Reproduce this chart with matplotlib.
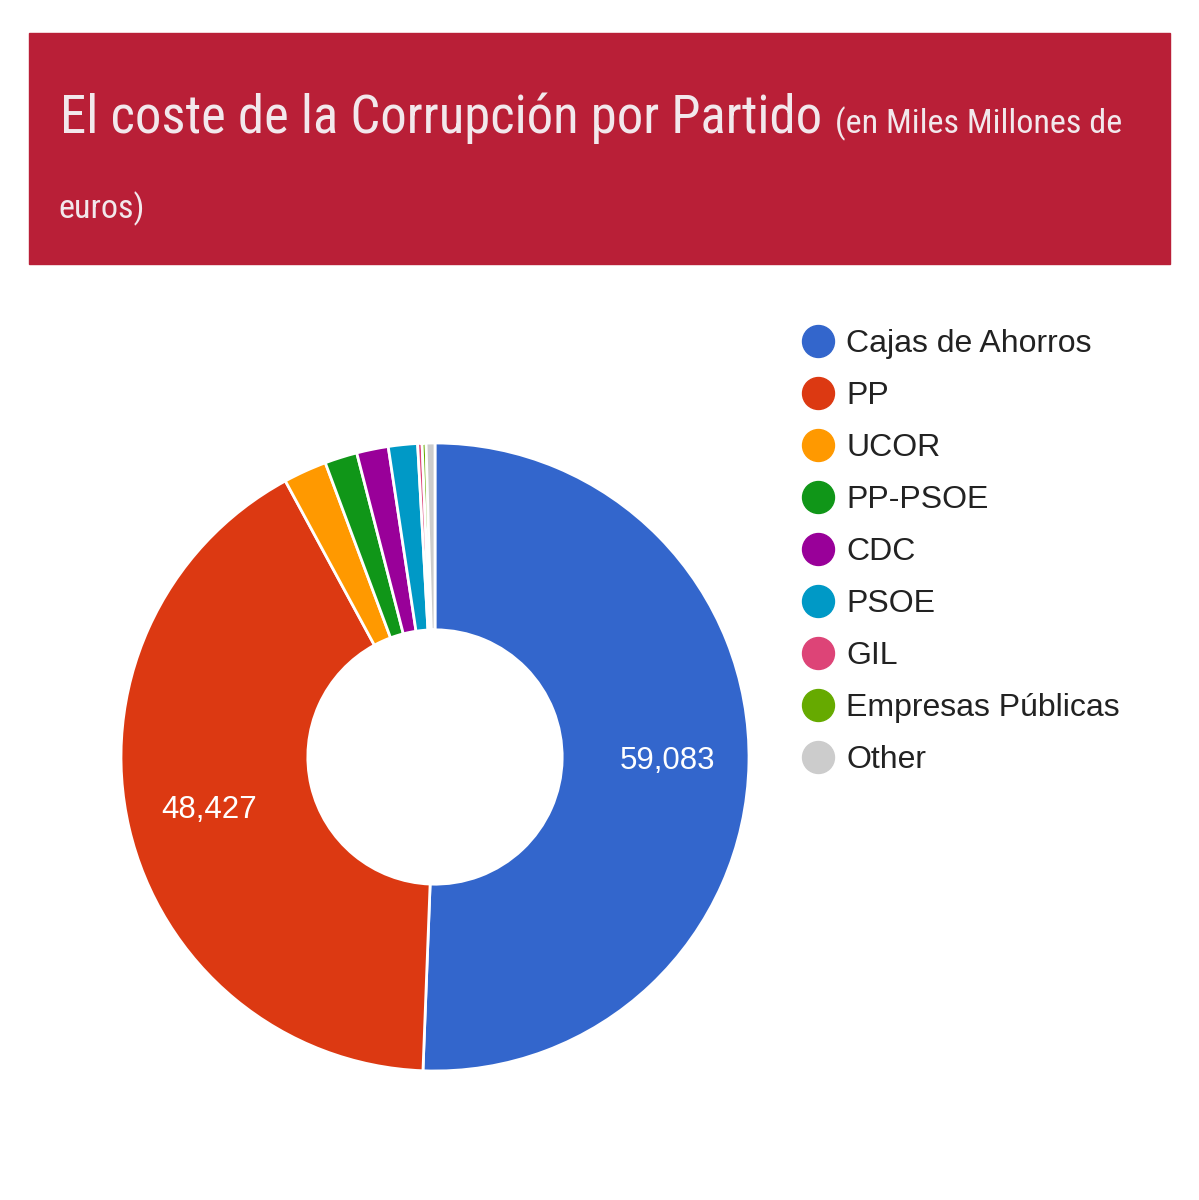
import matplotlib.pyplot as plt
from matplotlib import font_manager
from matplotlib.patches import Rectangle
from matplotlib.lines import Line2D

# Datos del gráfico (miles de millones de euros)
categorias = ['Cajas de Ahorros', 'PP', 'UCOR', 'PP-PSOE', 'CDC', 'PSOE', 'GIL',
              'Empresas Públicas', 'Other']
valores = [59083, 48427, 2600, 1950, 1900, 1750, 265, 235, 530]
colores = ['#3366cc', '#dc3912', '#ff9900', '#109618', '#990099', '#0099c6',
           '#dd4477', '#66aa00', '#cccccc']


def primera_fuente(nombres):
    for n in nombres:
        try:
            font_manager.findfont(n, fallback_to_default=False)
            return n
        except Exception:
            pass
    return 'DejaVu Sans'


narrow = primera_fuente(['Liberation Sans Narrow', 'Roboto Condensed', 'DejaVu Sans Condensed',
                         'Open Sans Condensed', 'Roboto'])
condensada = narrow in ('Liberation Sans Narrow', 'Roboto Condensed', 'DejaVu Sans Condensed',
                        'Open Sans Condensed')

W, H = 1199, 1200
fig = plt.figure(figsize=(W / 100, H / 100), dpi=100)

# Cabecera roja
fig.patches.append(Rectangle((29 / W, 1 - 264 / H), (1170 - 29) / W, (264 - 33) / H,
                             transform=fig.transFigure, color='#b91f37', zorder=0))

fuente_titulo = [narrow, 'DejaVu Sans']
t_grande = 38 if condensada else 31
t_peq = 24.6 if condensada else 20
t1 = fig.text(60 / W, 1 - 133 / H, 'El coste de la Corrupción por Partido',
              fontsize=t_grande, color='#f2e8ec', family=fuente_titulo, va='baseline')
fig.canvas.draw()
r = fig.canvas.get_renderer()
bb = t1.get_window_extent(r)
fig.text((bb.x1 + 13) / W, 1 - 133 / H, '(en Miles Millones de',
         fontsize=t_peq, color='#f2e8ec', family=fuente_titulo, va='baseline')
fig.text(58 / W, 1 - 218 / H, 'euros)',
         fontsize=t_peq, color='#f2e8ec', family=fuente_titulo, va='baseline')

# Donut
cx, cy, rad = 435, 757, 314
ax = fig.add_axes([(cx - rad) / W, (H - cy - rad) / H, 2 * rad / W, 2 * rad / H])
total = sum(valores)


def etiqueta(p):
    return f'{p * total / 100:,.0f}' if p > 10 else ''


wedges, _, autotexts = ax.pie(valores, colors=colores, startangle=90, counterclock=False,
                              autopct=etiqueta, pctdistance=0.74,
                              wedgeprops=dict(width=1 - 0.405, edgecolor='white', linewidth=2),
                              textprops=dict(color='white', fontsize=22.5,
                                             family=['Liberation Sans', 'DejaVu Sans']))
ax.set_xlim(-1, 1)
ax.set_ylim(-1, 1)
ax.set_aspect('equal')

# Leyenda
handles = [Line2D([], [], linestyle='none', marker='o', markersize=23,
                  markerfacecolor=c, markeredgecolor=c) for c in colores]
fig.legend(handles, categorias, loc='upper left', bbox_to_anchor=(802 / W, 1 - 329 / H),
           frameon=False, borderpad=0, borderaxespad=0, handlelength=0.98, handletextpad=0.4,
           labelspacing=0.69, prop=dict(family=['Liberation Sans', 'DejaVu Sans'], size=23),
           labelcolor='#222222')

plt.savefig('out.png', dpi=100)
